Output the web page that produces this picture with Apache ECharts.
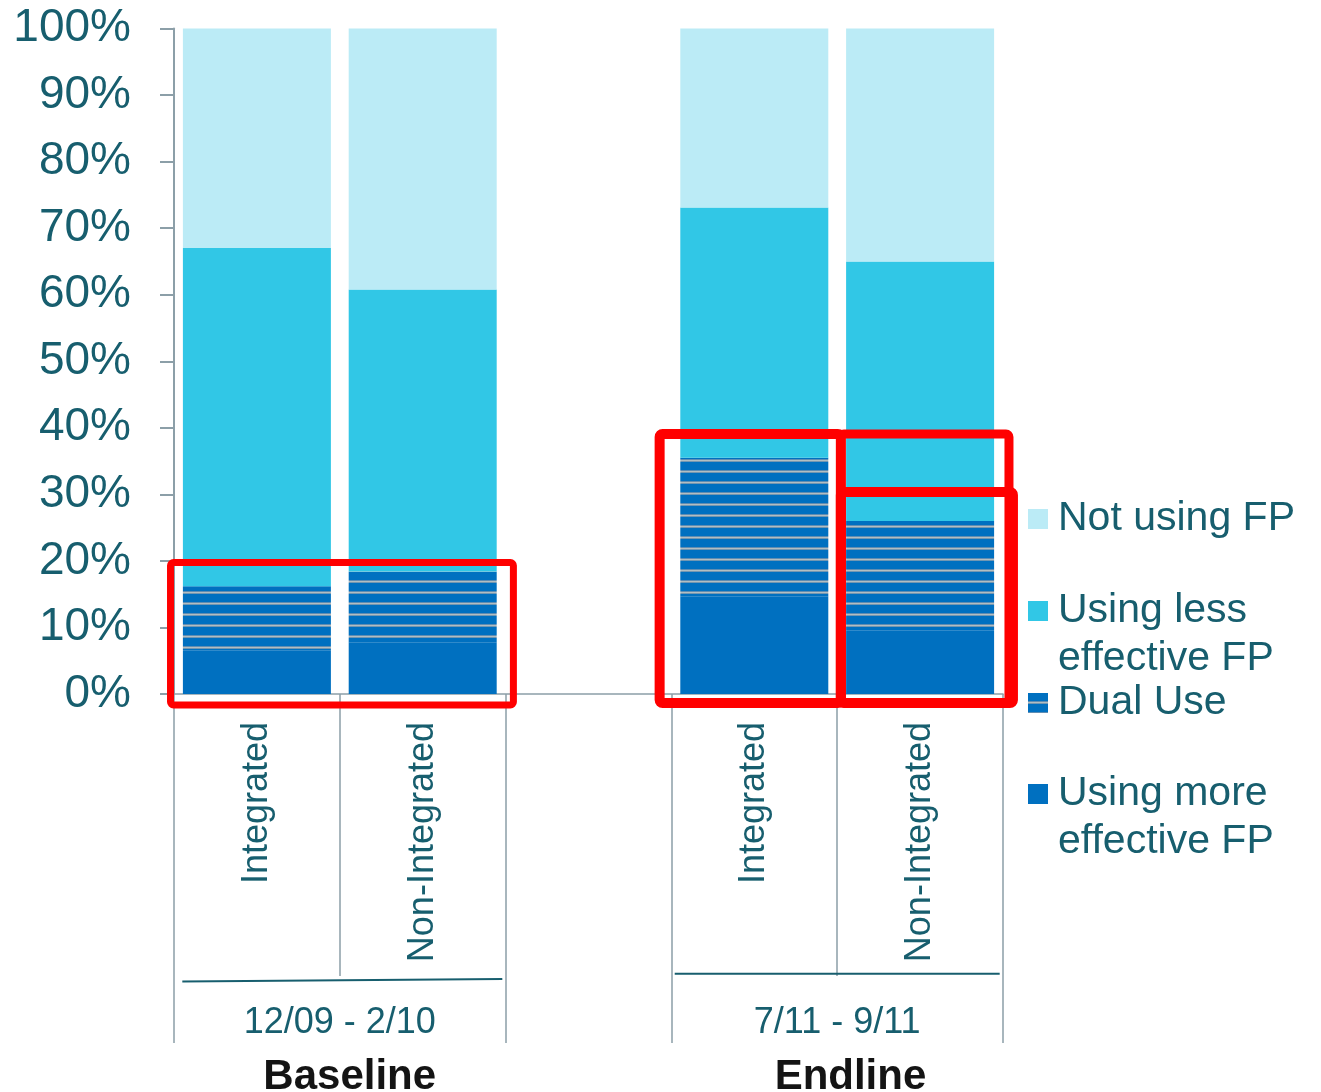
<!DOCTYPE html>
<html><head><meta charset="utf-8">
<script src="https://cdn.jsdelivr.net/npm/echarts@6/dist/echarts.min.js"></script>
<style>html,body{margin:0;padding:0;background:#fff}#c{width:1321px;height:1092px}</style>
</head><body><div id="c"></div>
<script>
// ---- data ----
const categories = ['Integrated', 'Non-Integrated', '', 'Integrated', 'Non-Integrated'];
const periods = ['12/09 - 2/10', '7/11 - 9/11'];
const groups = ['Baseline', 'Endline'];
const seriesNames = ['Using more\neffective FP', 'Dual Use', 'Using less\neffective FP', 'Not using FP'];
const moreEffective = [6.5, 7.7, null, 14.7, 9.5];
const dualUse = [9.7, 10.7, null, 20.8, 16.5];
const lessEffective = [50.8, 42.4, null, 37.6, 39.0];
const notUsing = [33.0, 39.2, null, 26.9, 35.0];
const yTickLabels = ['0%', '10%', '20%', '30%', '40%', '50%', '60%', '70%', '80%', '90%', '100%'];

// ---- style ----
const TEAL = '#175e6e';
const AXIS = '#8c9fa8';
const FONT = '"Liberation Sans", Arial, sans-serif';
const C_MORE = '#0070c0', C_LESS = '#31c7e6', C_NOT = '#bbebf6';

function stripePattern() {
  const c = document.createElement('canvas');
  c.width = 8; c.height = 11;
  const g = c.getContext('2d');
  g.fillStyle = C_MORE; g.fillRect(0, 0, 8, 11);
  g.fillStyle = '#5f8db3'; g.fillRect(0, 8, 8, 1);
  g.fillStyle = '#b3bec1'; g.fillRect(0, 9, 8, 1);
  g.fillStyle = '#7397b2'; g.fillRect(0, 10, 8, 1);
  return c;
}
const DUAL = { image: stripePattern(), repeat: 'repeat' };

const chart = echarts.init(document.getElementById('c'), null, { renderer: 'canvas' });

function bar(name, data, color) {
  return {
    name, type: 'bar', stack: 'all', data, barWidth: 148,
    xAxisIndex: 0, yAxisIndex: 0,
    itemStyle: { color },
    emphasis: { disabled: true }
  };
}

const legendBase = {
  orient: 'vertical', left: 1023, icon: 'path://M0,0H10V10H0Z',
  itemWidth: 30, itemHeight: 20, symbolKeepAspect: true, selectedMode: false,
  textStyle: { fontSize: 41, color: TEAL, fontFamily: FONT, lineHeight: 48 }
};
function legendFor(name, top, twoLines) {
  const l = Object.assign({}, legendBase, { data: [name], top });
  // a leading blank line keeps the first text line level with the icon
  if (twoLines) l.formatter = n => '\n' + n;
  return l;
}

chart.setOption({
  animation: false,
  backgroundColor: '#fff',
  grid: { left: 174, right: 318, top: 28.5, bottom: 398, containLabel: false, outerBoundsMode: 'none' },
  legend: [
    legendFor(seriesNames[3], 490, false),
    legendFor(seriesNames[2], 534, true),
    legendFor(seriesNames[1], 674, false),
    legendFor(seriesNames[0], 717, true)
  ],
  xAxis: [
    {
      type: 'category', data: categories, position: 'bottom',
      axisLine: { show: true, lineStyle: { color: AXIS, width: 1.5 } },
      axisTick: { show: true, alignWithLabel: false, length: 282, lineStyle: { color: AXIS, width: 1.5 } },
      axisLabel: { rotate: 90, interval: 0, margin: 28, fontSize: 36, color: TEAL, fontFamily: FONT },
      splitLine: { show: false }
    },
    {
      type: 'value', min: 0, max: 5, position: 'bottom',
      axisLine: { show: false },
      axisTick: { show: true, customValues: [0, 2, 3, 5], length: 349, lineStyle: { color: AXIS, width: 1.5 } },
      axisLabel: {
        show: true, customValues: [1, 4], margin: 311, fontSize: 36, color: TEAL, fontFamily: FONT,
        formatter: v => periods[Math.round((v - 1) / 3)]
      },
      splitLine: { show: false }
    },
    {
      type: 'value', min: 0, max: 5, position: 'bottom',
      axisLine: { show: false }, axisTick: { show: false },
      axisLabel: {
        show: true, customValues: [1.06, 4.08], margin: 362, fontSize: 42, fontWeight: 'bold', color: '#141414', fontFamily: FONT,
        formatter: v => groups[Math.round((v - 1) / 3)]
      },
      splitLine: { show: false }
    }
  ],
  yAxis: {
    type: 'value', min: 0, max: 100, interval: 10,
    axisLine: { show: true, lineStyle: { color: AXIS, width: 2 } },
    axisTick: { show: true, length: 14, lineStyle: { color: AXIS, width: 2 } },
    axisLabel: { margin: 43, fontSize: 46, color: TEAL, fontFamily: FONT, formatter: (v) => yTickLabels[Math.round(v / 10)] },
    splitLine: { show: false }
  },
  series: [
    bar(seriesNames[0], moreEffective, C_MORE),
    bar(seriesNames[1], dualUse, DUAL),
    bar(seriesNames[2], lessEffective, C_LESS),
    bar(seriesNames[3], notUsing, C_NOT)
  ]
});

// ---- annotations: red highlight boxes and group underlines ----
const boxes = [
  { x0: -0.021, x1: 2.047, y0: 19.76, y1: -1.65, w: 7 },
  { x0: 2.929, x1: 4.022, y0: 39.07, y1: -1.35, w: 10 },
  { x0: 4.022, x1: 5.036, y0: 39.07, y1: -1.35, w: 9 },
  { x0: 4.022, x1: 5.06, y0: 30.35, y1: -1.35, w: 10 }
];
const P = (x, y) => chart.convertToPixel({ xAxisIndex: 1, yAxisIndex: 0 }, [x, y]);
const graphics = [];
boxes.forEach(b => {
  const a = P(b.x0, b.y0), c = P(b.x1, b.y1);
  graphics.push({
    type: 'rect', z: 100,
    shape: { x: a[0], y: a[1], width: c[0] - a[0], height: c[1] - a[1], r: 3 },
    style: { fill: 'none', stroke: '#ff0000', lineWidth: b.w, lineJoin: 'round' }
  });
});
const y0 = P(0, 0)[1];
const underlines = [
  { x0: 0.05, x1: 1.98, dy0: 287.5, dy1: 285 },
  { x0: 3.02, x1: 4.98, dy0: 279.7, dy1: 279.7 }
];
underlines.forEach(u => {
  graphics.push({
    type: 'line', z: 50,
    shape: { x1: P(u.x0, 0)[0], y1: y0 + u.dy0, x2: P(u.x1, 0)[0], y2: y0 + u.dy1 },
    style: { stroke: TEAL, lineWidth: 2 }
  });
});
chart.setOption({ graphic: graphics });
</script>
</body></html>
